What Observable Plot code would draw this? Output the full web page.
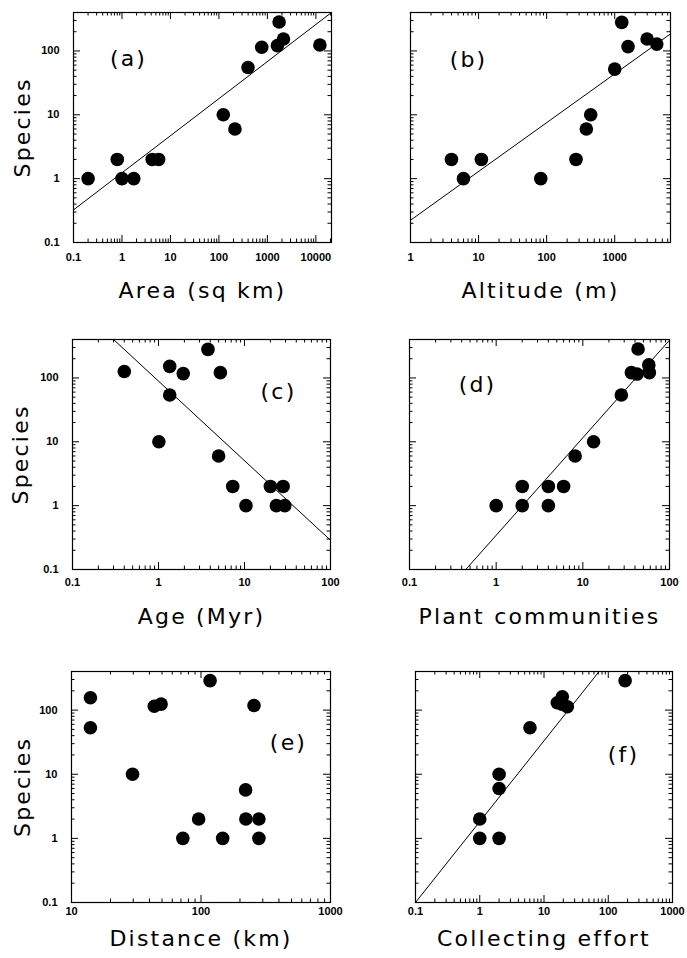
<!DOCTYPE html>
<html><head><meta charset="utf-8">
<script src="https://cdn.jsdelivr.net/npm/d3@7"></script>
<script src="https://cdn.jsdelivr.net/npm/@observablehq/plot@0.6"></script>
<style>
body{margin:0;background:#fff}
#root{position:relative;width:687px;height:958px;overflow:hidden}
#root svg{position:absolute;overflow:visible}
</style>
</head><body><div id="root"></div>
<script>
// ---------- data ----------
const yTickLabels = [0.1, 1, 10, 100];

const areaX = [0.2, 0.8, 1, 1.75, 4.2, 5.7, 123, 214, 398, 764, 1610, 1742, 2143, 12100];
const areaY = [1, 2, 1, 1, 2, 2, 10, 6, 55, 114, 121, 284, 154, 124];
const areaTicks = [0.1, 1, 10, 100, 1000, 10000];
const areaFitX = [0.1, 21000];
const areaFitY = [0.324, 400];

const altX = [4, 6, 11, 82, 270, 383, 444, 1000, 1268, 1570, 2990, 4150];
const altY = [2, 1, 2, 1, 2, 6, 10, 52, 280, 117, 154, 128];
const altTicks = [1, 10, 100, 1000];
const altFitX = [1, 6600];
const altFitY = [0.223, 185];

const ageX = [0.40, 1.35, 1.35, 1.94, 3.76, 5.24, 1.01, 5.0, 7.3, 10.4, 20, 23.5, 28.1, 29.4];
const ageY = [126, 152, 54, 117, 280, 121, 10, 6, 2, 1, 2, 1, 2, 1];
const ageTicks = [0.1, 1, 10, 100];
const ageFitX = [0.3, 100];
const ageFitY = [400, 0.287];

const commX = [1, 2, 2, 4, 4, 6, 8.15, 13.3, 27.8, 36.3, 42.2, 43.4, 57.7, 58.6];
const commY = [1, 2, 1, 2, 1, 2, 6, 10, 54, 121, 115, 284, 160, 121];
const commTicks = [0.1, 1, 10, 100];
const commFitX = [0.446, 100];
const commFitY = [0.1, 390];

const distX = [14, 14, 29.6, 43.6, 49.2, 117.5, 256.6, 221, 72.4, 95.9, 147, 222, 280, 280];
const distY = [156, 53, 10, 115, 124, 288, 118, 5.7, 1, 2, 1, 2, 2, 1];
const distTicks = [10, 100, 1000];

const effX = [1, 1, 2, 2, 2, 6.05, 16.1, 19.3, 19, 23.1, 183];
const effY = [2, 1, 1, 6, 10, 53, 130, 161, 124, 113, 288];
const effTicks = [0.1, 1, 10, 100, 1000];
const effFitX = [0.1, 72];
const effFitY = [0.1, 400];

// ---------- drawing ----------
function minors(domain) {
  const out = [];
  const lo = Math.floor(Math.log10(domain[0])), hi = Math.ceil(Math.log10(domain[1]));
  for (let k = lo; k <= hi; k++) for (let m = 2; m <= 9; m++) {
    const v = m * Math.pow(10, k);
    if (v > domain[0] && v < domain[1]) out.push(v);
  }
  return out;
}
function majors(domain) {
  const out = [];
  const lo = Math.ceil(Math.log10(domain[0]) - 1e-9), hi = Math.floor(Math.log10(domain[1]) + 1e-9);
  for (let k = lo; k <= hi; k++) out.push(Math.pow(10, k));
  return out;
}
const fmt = d => String(d);
const TITLE = {fontSize: 22, fontFamily: "DejaVu Sans", fill: "black",
  textAnchor: "middle", lineAnchor: "middle"};
const TICK = {fontSize: 11, fontWeight: "bold", fontFamily: "Liberation Sans", fill: "black", lineAnchor: "middle"};

function panel(o) {
  const box = o.box, fr = o.frame;
  const W = box[2] - box[0], H = box[3] - box[1];
  const fw = fr[2] - fr[0], fh = fr[3] - fr[1];
  const xDom = o.xDomain, yDom = [0.1, 400];
  const big = 7, small = 3.5;
  const xMaj = majors(xDom), xMin = minors(xDom), yMaj = majors(yDom), yMin = minors(yDom);
  const marks = [
    Plot.frame({stroke: "black", strokeWidth: 1.2}),
    Plot.tickX(xMaj, {x: d => d, insetTop: fh - big, stroke: "black"}),
    Plot.tickX(xMin, {x: d => d, insetTop: fh - small, stroke: "black"}),
    Plot.tickX(xMaj, {x: d => d, insetBottom: fh - big, stroke: "black"}),
    Plot.tickX(xMin, {x: d => d, insetBottom: fh - small, stroke: "black"}),
    Plot.tickY(yMaj, {y: d => d, insetRight: fw - big, stroke: "black"}),
    Plot.tickY(yMin, {y: d => d, insetRight: fw - small, stroke: "black"}),
    Plot.tickY(yMaj, {y: d => d, insetLeft: fw - big, stroke: "black"}),
    Plot.tickY(yMin, {y: d => d, insetLeft: fw - small, stroke: "black"}),
    Plot.text(o.xTicks, {x: d => d, frameAnchor: "bottom", dy: o.tickDy, text: fmt, textAnchor: "middle", ...TICK}),
  ];
  if (o.yLabels) {
    marks.push(Plot.text(yTickLabels, {y: d => d, frameAnchor: "left", dx: -14, textAnchor: "end", text: fmt, ...TICK}));
    marks.push(Plot.text(["Species"], {frameAnchor: "left", dx: o.speciesDx, rotate: -90, ...TITLE}));
  }
  if (o.fitX) {
    marks.push(Plot.line(o.fitX, {x: o.fitX, y: o.fitY, stroke: "black", strokeWidth: 1, clip: true}));
  }
  marks.push(Plot.dot(o.x, {x: o.x, y: o.y, r: 6.8, fill: "black", stroke: null}));
  marks.push(Plot.text([o.xLabel], {frameAnchor: "bottom", dy: o.titleDy, ...TITLE}));
  marks.push(Plot.text([o.tag], {frameAnchor: o.tagAnchor, dx: o.tagDx, dy: o.tagDy, ...TITLE}));

  const svg = Plot.plot({
    width: W, height: H,
    marginLeft: fr[0] - box[0], marginRight: box[2] - fr[2],
    marginTop: fr[1] - box[1], marginBottom: box[3] - fr[3],
    x: {type: "log", domain: xDom, axis: null},
    y: {type: "log", domain: yDom, axis: null},
    style: {background: "transparent", fontFamily: "DejaVu Sans", overflow: "visible"},
    marks
  });
  svg.style.left = box[0] + "px";
  svg.style.top = box[1] + "px";
  d3.select(svg).selectAll('g[font-size="22"] text').style("letter-spacing", "2.2px");
  document.getElementById("root").appendChild(svg);
}

panel({box: [0, 0, 343, 310], frame: [73, 12, 331, 242], xDomain: [0.1, 21000], xTicks: areaTicks,
  x: areaX, y: areaY, fitX: areaFitX, fitY: areaFitY, xLabel: "Area (sq km)", yLabels: true,
  speciesDx: -51, tickDy: 15, titleDy: 48, tag: "(a)", tagAnchor: "top-left", tagDx: 55, tagDy: 46});
panel({box: [343, 0, 687, 310], frame: [410, 12, 670, 242], xDomain: [1, 6600], xTicks: altTicks,
  x: altX, y: altY, fitX: altFitX, fitY: altFitY, xLabel: "Altitude (m)", yLabels: false,
  tickDy: 15, titleDy: 48, tag: "(b)", tagAnchor: "top-left", tagDx: 58, tagDy: 47});
panel({box: [0, 310, 343, 630], frame: [72, 339, 330, 569], xDomain: [0.1, 100], xTicks: ageTicks,
  x: ageX, y: ageY, fitX: ageFitX, fitY: ageFitY, xLabel: "Age (Myr)", yLabels: true,
  speciesDx: -52, tickDy: 13, titleDy: 47, tag: "(c)", tagAnchor: "top-right", tagDx: -52, tagDy: 52});
panel({box: [343, 310, 687, 630], frame: [409, 339, 669, 569], xDomain: [0.1, 100], xTicks: commTicks,
  x: commX, y: commY, fitX: commFitX, fitY: commFitY, xLabel: "Plant communities", yLabels: false,
  tickDy: 13, titleDy: 47, tag: "(d)", tagAnchor: "top-left", tagDx: 68, tagDy: 45});
panel({box: [0, 630, 343, 958], frame: [71, 671, 330, 902], xDomain: [10, 1000], xTicks: distTicks,
  x: distX, y: distY, xLabel: "Distance (km)", yLabels: true,
  speciesDx: -49, tickDy: 9, titleDy: 36, tag: "(e)", tagAnchor: "top-right", tagDx: -42, tagDy: 71});
panel({box: [343, 630, 687, 958], frame: [415, 671, 672, 902], xDomain: [0.1, 1000], xTicks: effTicks,
  x: effX, y: effY, fitX: effFitX, fitY: effFitY, xLabel: "Collecting effort", yLabels: false,
  tickDy: 9, titleDy: 36, tag: "(f)", tagAnchor: "top-right", tagDx: -49, tagDy: 83});
</script>
</body></html>
